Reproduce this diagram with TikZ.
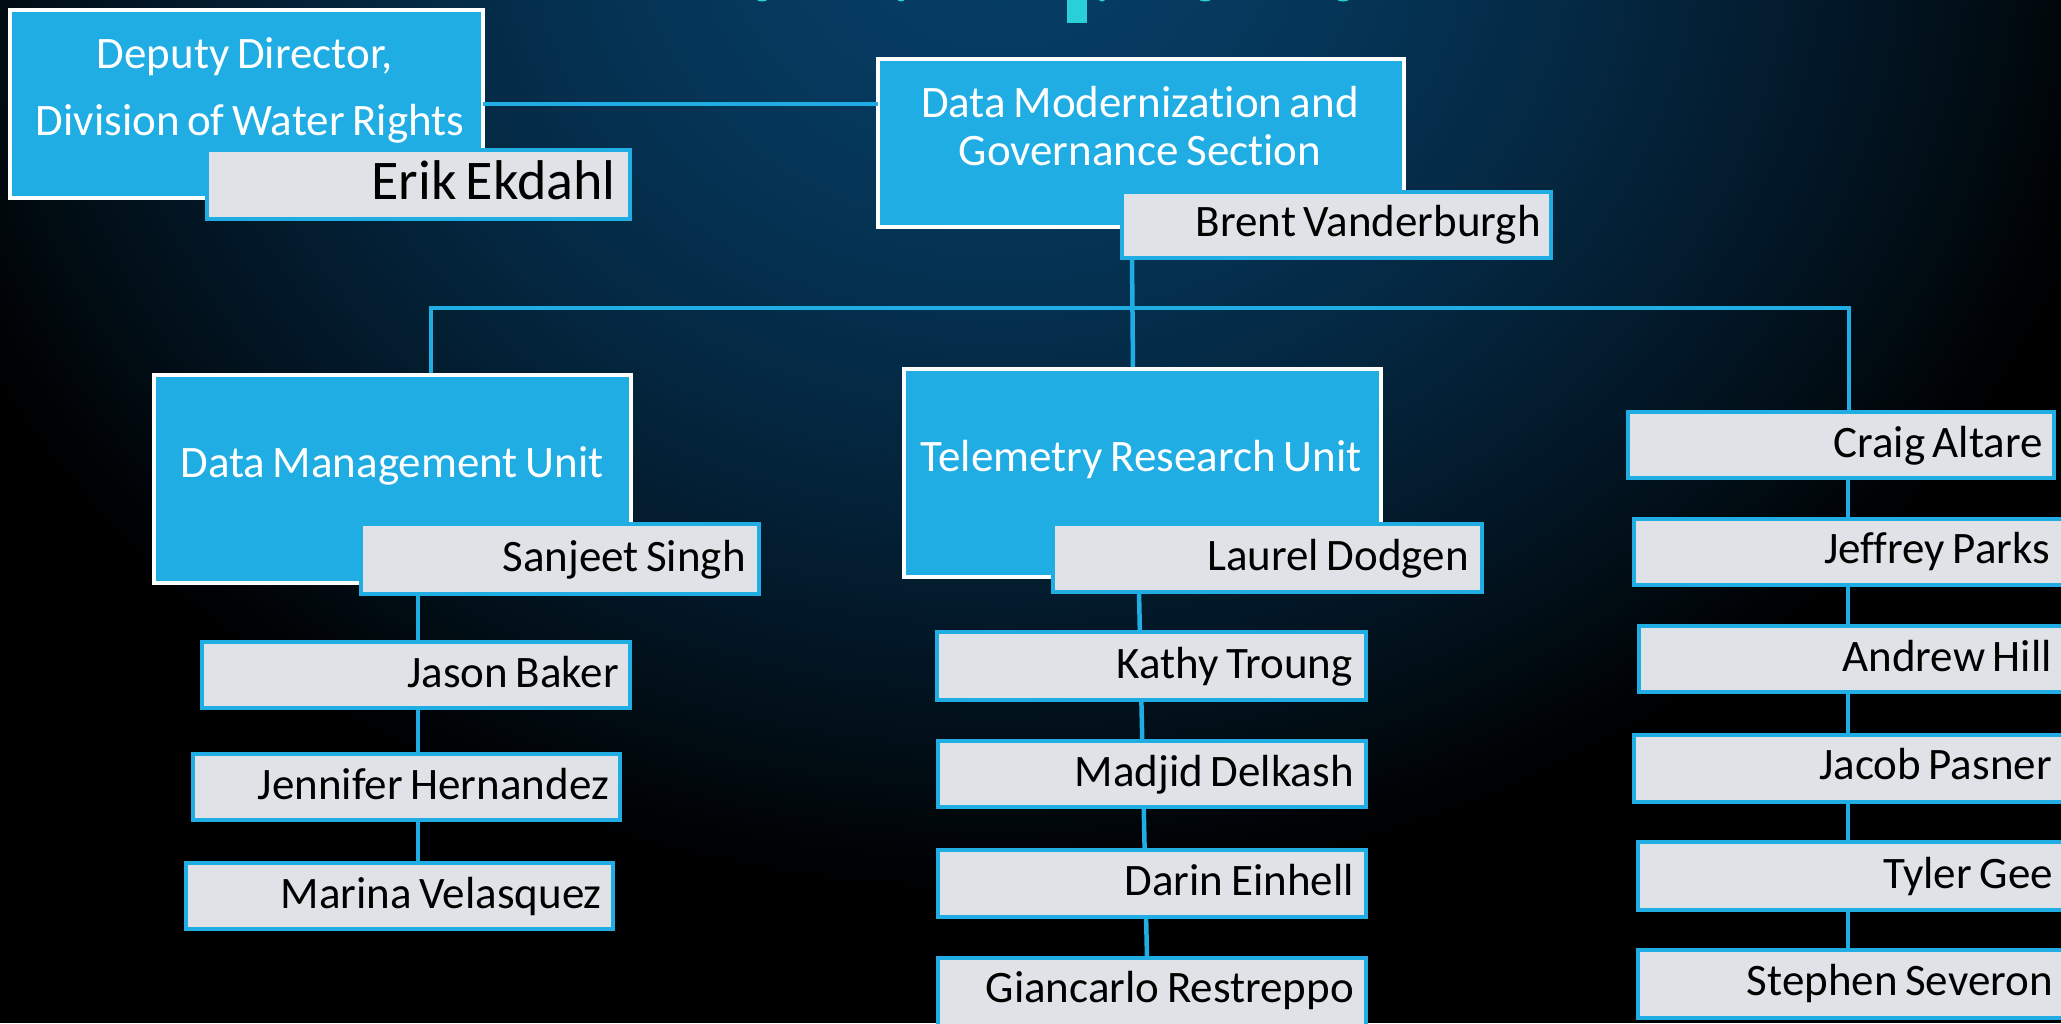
\documentclass[tikz,border=0pt]{standalone}
\usepackage{fontspec}
\setmainfont{Carlito}[Ligatures=NoCommon, WordSpace=0.75]
\usetikzlibrary{calc}
\definecolor{boxblue}{RGB}{31,173,227}
\definecolor{boxgrey}{RGB}{223,226,230}
\definecolor{bgA}{RGB}{6,62,102}
\definecolor{titleteal}{RGB}{41,207,217}
\tikzset{
  bbox/.style={draw=white, fill=boxblue, line width=4.5pt, inner sep=0pt, outer sep=0pt, anchor=north west},
  gbox/.style={draw=boxblue, fill=boxgrey, line width=4.5pt, inner sep=0pt, outer sep=0pt, anchor=north west},
  conn/.style={draw=boxblue, line width=4.5pt},
  wtxt/.style={text=white, inner sep=0pt, anchor=base, font=\fontsize{45}{54}\selectfont},
  ktxt/.style={text=black, inner sep=0pt, anchor=base east, font=\fontsize{45}{54}\selectfont},
}
\begin{document}
\begin{tikzpicture}[x=1pt,y=-1pt]
\useasboundingbox (0,0) rectangle (2061,1023);
\begin{scope}
\clip (0,0) rectangle (2061,1023);
% background
\fill[black] (0,0) rectangle (2061,1023);
\foreach \i in {0,...,90}{
  \pgfmathsetmacro\dd{1-\i/90}
  \pgfmathsetmacro\pp{100*(1-pow(\dd,1.6))}
  \fill[bgA!\pp!black] (1000,-80) ellipse [x radius={1150*\dd}, y radius={980*\dd}];
}
% cropped title fragments
\fill[titleteal] (1067,0) rectangle (1087,23);
\fill[titleteal] (762,-6) ellipse [x radius=9, y radius=7.5];
\fill[titleteal] (901,-6) ellipse [x radius=6, y radius=7.5];
\fill[titleteal] (1102,-6) ellipse [x radius=5, y radius=7.5];
\fill[titleteal] (1205,-6) ellipse [x radius=10, y radius=7.5];
\fill[titleteal] (1343,-6) ellipse [x radius=10, y radius=7.5];

% ---------- anchor points ----------
\path (10,10) coordinate (depNW);
\path (878,59) coordinate (dmNW);
\path (154,375) coordinate (dmuNW);
\path (904,369) coordinate (truNW);
\path (1122,192) coordinate (brentNW);
\path (1053,524) coordinate (laurelNW);
\path (1628,412) coordinate (craigNW);
\coordinate (bus) at (0,308);
\coordinate (dmuin) at ($(dmuNW)+(277,0)$);
\coordinate (craigin) at ($(craigNW)+(221,0)$);
\coordinate (brentout) at ($(brentNW)+(10,66)$);
\coordinate (truin) at ($(truNW)+(229,0)$);
\coordinate (laurelout) at ($(laurelNW)+(86,68)$);

% ---------- connectors ----------
\draw[conn] (dmuin) -- (dmuin |- bus) -- (craigin |- bus) -- (craigin);
\draw[conn] (brentout) -- (truin);
\draw[conn] (418,596) coordinate (lctop) -- (418,863) coordinate (lcbot);
\draw[conn] (laurelout) -- (1147,958) coordinate (mcbot);
\draw[conn] (1848,478) coordinate (rctop) -- (1848,950) coordinate (rcbot);

% ---------- blue boxes ----------
\node[bbox, minimum width=473, minimum height=188] (dep) at (depNW) {};
\node[bbox, minimum width=526, minimum height=168] (dm) at (dmNW) {};
\node[bbox, minimum width=477, minimum height=208] (dmu) at (dmuNW) {};
\node[bbox, minimum width=477, minimum height=208] (tru) at (truNW) {};
\draw[conn] (dep.east) -- (dep.east -| dm.west);

% ---------- grey boxes ----------
\node[gbox, minimum width=423, minimum height=69] (erik) at (207,150) {};
\node[gbox, minimum width=429, minimum height=66] (brent) at (brentNW) {};
\node[gbox, minimum width=398, minimum height=70] (sanjeet) at (361,524) {};
\node[gbox, minimum width=429, minimum height=68] (laurel) at (laurelNW) {};
\node[gbox, minimum width=428, minimum height=66] (jason) at (202,642) {};
\node[gbox, minimum width=427, minimum height=66] (jennifer) at (193,754) {};
\node[gbox, minimum width=427, minimum height=66] (marina) at (186,863) {};
\node[gbox, minimum width=429, minimum height=68] (kathy) at (937,632) {};
\node[gbox, minimum width=428, minimum height=66] (madjid) at (938,741) {};
\node[gbox, minimum width=428, minimum height=67] (darin) at (938,850) {};
\node[gbox, minimum width=428, minimum height=70] (giancarlo) at (938,958) {};
\node[gbox, minimum width=426, minimum height=66] (craig) at (craigNW) {};
\node[gbox, minimum width=440, minimum height=66] (jeffrey) at (1634,519) {};
\node[gbox, minimum width=440, minimum height=66] (andrew) at (1639,626) {};
\node[gbox, minimum width=440, minimum height=67] (jacob) at (1634,735) {};
\node[gbox, minimum width=440, minimum height=68] (tyler) at (1638,842) {};
\node[gbox, minimum width=440, minimum height=68] (stephen) at (1638,950) {};

% ---------- texts in blue boxes ----------
\node[wtxt] (deptA) at (245,68) {Deputy Director,};
\node[wtxt] (deptB) at (250,135) {Division of Water Rights};
\node[wtxt] (dmtA) at (1140,117) {Data Modernization and};
\node[wtxt] (dmtB) at (1140,165) {Governance Section};
\node[wtxt] (dmut) at (392,477) {Data Management Unit};
\node[wtxt] (trut) at (1141,471) {Telemetry Research Unit};

% ---------- texts in grey boxes ----------
\node[ktxt, font=\fontsize{56}{66}\selectfont] (erikt) at (616,199) {Erik Ekdahl};
\node[ktxt] (brentt) at (1541,236) {Brent Vanderburgh};
\node[ktxt] (sanjeett) at (746,571) {Sanjeet Singh};
\node[ktxt] (laurelt) at (1469,570) {Laurel Dodgen};
\node[ktxt] (jasont) at (619,687) {Jason Baker};
\node[ktxt] (jennifert) at (609,799) {Jennifer Hernandez};
\node[ktxt] (marinat) at (602,908) {Marina Velasquez};
\node[ktxt] (kathyt) at (1353,678) {Kathy Troung};
\node[ktxt] (madjidt) at (1354,786) {Madjid Delkash};
\node[ktxt] (darint) at (1354,895) {Darin Einhell};
\node[ktxt] (giancarlot) at (1354,1002) {Giancarlo Restreppo};
\node[ktxt] (craigt) at (2043,457) {Craig Altare};
\node[ktxt] (jeffreyt) at (2050,563) {Jeffrey Parks};
\node[ktxt] (andrewt) at (2052,671) {Andrew Hill};
\node[ktxt] (jacobt) at (2052,779) {Jacob Pasner};
\node[ktxt] (tylert) at (2053,888) {Tyler Gee};
\node[ktxt] (stephent) at (2053,995) {Stephen Severon};
\end{scope}
\end{tikzpicture}
\end{document}
